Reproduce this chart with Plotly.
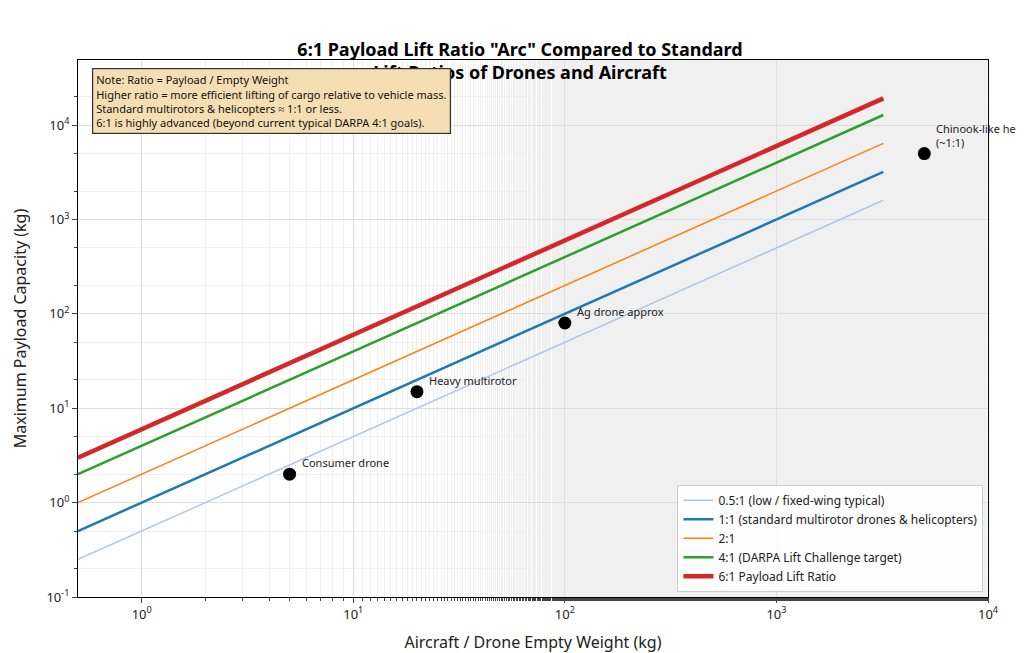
import math
import plotly.graph_objects as go

# empty weight range (kg) for the ratio lines
weights = [0.5, 3200]

ratios = [0.5, 1, 2, 4, 6]
ratio_names = [
    "0.5:1 (low / fixed-wing typical)",
    "1:1 (standard multirotor drones & helicopters)",
    "2:1",
    "4:1 (DARPA Lift Challenge target)",
    "6:1 Payload Lift Ratio",
]
ratio_colors = ["#aec7e8", "#1f77b4", "#ff7f0e", "#2ca02c", "#d62728"]
ratio_widths = [1.5, 2.5, 1.5, 2.5, 4.5]

# example aircraft
ex_names = ["Consumer drone", "Heavy multirotor", "Ag drone approx", "Chinook-like heli<br>(~1:1)"]
ex_weight = [5, 20, 100, 5000]
ex_payload = [2, 15, 80, 5000]

x_tick_exp = [0, 1, 2, 3, 4]
y_tick_exp = [-1, 0, 1, 2, 3, 4]

FONT = "Noto Sans"

fig = go.Figure()
for r, name, c, w in zip(ratios, ratio_names, ratio_colors, ratio_widths):
    fig.add_trace(go.Scatter(
        x=weights, y=[r * x for x in weights], mode="lines", name=name,
        line=dict(color=c, width=w)))

fig.add_trace(go.Scatter(
    x=ex_weight, y=ex_payload, mode="markers", showlegend=False,
    marker=dict(color="black", size=13)))

# annotations on log axes take log10 positions
for n, x, y in zip(ex_names, ex_weight, ex_payload):
    fig.add_annotation(x=math.log10(x), y=math.log10(y), xref="x", yref="y", text=n,
                       showarrow=False, xanchor="left", yanchor="bottom",
                       xshift=10, yshift=2, align="left",
                       font=dict(size=11, color="#222"))

fig.add_annotation(
    xref="paper", yref="paper", x=0.015, y=0.985, xanchor="left", yanchor="top",
    showarrow=False, align="left",
    text="Note: Ratio = Payload / Empty Weight<br>"
         "Higher ratio = more efficient lifting of cargo relative to vehicle mass.<br>"
         "Standard multirotors & helicopters \u2248 1:1 or less.<br>"
         "6:1 is highly advanced (beyond current typical DARPA 4:1 goals).",
    bgcolor="#f5deb3", bordercolor="#333", borderwidth=1.2, borderpad=3,
    font=dict(size=11, color="#111"))

axis_common = dict(
    type="log", showline=True, linecolor="black", linewidth=1, mirror=True,
    ticks="outside", gridcolor="#dddddd",
    minor=dict(showgrid=True, gridcolor="#f0f0f0", ticks="outside", ticklen=3),
    tickfont=dict(size=13), zeroline=False)

fig.update_xaxes(**axis_common, range=[-0.301, 4],
                 tickvals=[10 ** e for e in x_tick_exp],
                 ticktext=[f"10<sup>{e}</sup>" for e in x_tick_exp],
                 title=dict(text="Aircraft / Drone Empty Weight (kg)", font=dict(size=16)))
fig.update_yaxes(**axis_common, range=[-1, 4.69],
                 tickvals=[10 ** e for e in y_tick_exp],
                 ticktext=[f"10<sup>{e}</sup>" for e in y_tick_exp],
                 title=dict(text="Maximum Payload Capacity (kg)", font=dict(size=16)))

fig.update_layout(
    width=1024, height=653, template="plotly_white",
    paper_bgcolor="white", plot_bgcolor="white",
    font=dict(family=FONT, color="#222"),
    margin=dict(l=67, r=44, t=52, b=55),
    title=dict(text="<b>6:1 Payload Lift Ratio \"Arc\" Compared to Standard<br>Lift Ratios of Drones and Aircraft</b>",
               x=0.5, xanchor="center", yref="paper", y=1, yanchor="bottom",
               pad=dict(b=4), font=dict(size=18, color="black")),
    legend=dict(x=0.995, y=0.01, xanchor="right", yanchor="bottom",
                bgcolor="rgba(255,255,255,0.9)", bordercolor="#ccc", borderwidth=1,
                font=dict(size=12)),
)

fig.write_html("out.html")
